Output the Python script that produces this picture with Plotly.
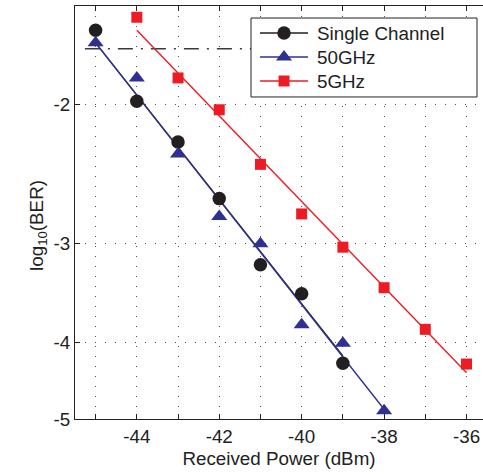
import numpy as np
import plotly.graph_objects as go

# Received optical power (dBm)
power_single = [-45, -44, -43, -42, -41, -40, -39]
power_50ghz = [-45, -44, -43, -42, -41, -40, -39, -38]
power_5ghz = [-44, -43, -42, -41, -40, -39, -38, -37, -36]

# Measured log10(BER)
ber_single = [-1.61, -1.98, -2.23, -2.63, -3.19, -3.47, -4.25]
ber_50ghz = [-1.67, -1.85, -2.31, -2.77, -3.00, -3.80, -4.01, -4.88]
ber_5ghz = [-1.55, -1.85, -2.03, -2.38, -2.75, -3.03, -3.41, -3.85, -4.26]

# Linear fits (end points) of each series
fit_single_x = [-45, -39]
fit_single_y = [-1.67, -4.16]
fit_50ghz_x = [-45, -38]
fit_50ghz_y = [-1.67, -4.86]
fit_5ghz_x = [-44, -36]
fit_5ghz_y = [-1.61, -4.37]

# FEC limit (BER = 2e-2)
fec_x = [-45.26, -37.0]
fec_y = [np.log10(2e-2)] * 2

x_ticks = [-44, -42, -40, -38, -36]
x_tick_text = ["-44", "-42", "-40", "-38", "-36"]
y_ticks = [-2, -3, -4, -5]
y_tick_text = ["-2", "-3", "-4", "-5"]

legend_names = ["Single Channel", "50GHz", "5GHz"]

BLACK = "#231f20"
BLUE = "#2e3192"
RED = "#ed1c24"
FONT = "Liberation Sans, Arial, sans-serif"
FS = 18.8


def depth(values):
    # the BER axis is drawn on a log(-log10 BER) scale
    return [-v for v in values]


fig = go.Figure()

fig.add_trace(go.Scatter(x=fec_x, y=depth(fec_y), mode="lines",
                         line=dict(color="#3a3a3a", width=1.5, dash="15px,8px,2px,8px"),
                         showlegend=False, hoverinfo="skip"))

for fx, fy, col in [(fit_single_x, fit_single_y, BLACK),
                    (fit_50ghz_x, fit_50ghz_y, BLUE),
                    (fit_5ghz_x, fit_5ghz_y, RED)]:
    fig.add_trace(go.Scatter(x=fx, y=depth(fy), mode="lines",
                             line=dict(color=col, width=1.4),
                             showlegend=False, hoverinfo="skip"))

styles = [
    (BLACK, "circle", 13.5),
    (BLUE, "triangle-up", 14),
    (RED, "square", 11),
]
for name, px, py, (col, sym, size) in zip(legend_names,
                                          [power_single, power_50ghz, power_5ghz],
                                          [ber_single, ber_50ghz, ber_5ghz], styles):
    fig.add_trace(go.Scatter(x=px, y=depth(py), mode="markers", name=name,
                             marker=dict(color=col, symbol=sym, size=size, line=dict(width=0)),
                             customdata=py,
                             hovertemplate="%{x} dBm<br>%{customdata}<extra>" + name + "</extra>",
                             showlegend=False))

# Legend box drawn on an overlay axis spanning the plot area (0..1 both ways)
box_l, box_r, box_t, box_b = 0.4314, 0.9853, 0.9709, 0.7797
row_y = [0.9346, 0.8765, 0.8184]
key_l, key_m, key_r, text_l = 0.4534, 0.5123, 0.5711, 0.5882

fig.add_trace(go.Scatter(x=[box_l, box_r, box_r, box_l, box_l],
                         y=[box_t, box_t, box_b, box_b, box_t],
                         xaxis="x2", yaxis="y2", mode="lines", fill="toself",
                         fillcolor="white", line=dict(color="#222", width=1),
                         showlegend=False, hoverinfo="skip"))
for ry, name, (col, sym, size) in zip(row_y, legend_names, styles):
    fig.add_trace(go.Scatter(x=[key_l, key_r], y=[ry, ry], xaxis="x2", yaxis="y2",
                             mode="lines", line=dict(color=col, width=1.4),
                             showlegend=False, hoverinfo="skip"))
    fig.add_trace(go.Scatter(x=[key_m], y=[ry], xaxis="x2", yaxis="y2", mode="markers",
                             marker=dict(color=col, symbol=sym, size=size, line=dict(width=0)),
                             showlegend=False, hoverinfo="skip"))
    fig.add_annotation(text=name, xref="paper", yref="paper", x=text_l, y=ry,
                       xanchor="left", yanchor="middle", showarrow=False,
                       font=dict(family=FONT, size=FS, color="#222"))

axis_font = dict(family=FONT, size=FS, color="#222")
grid_style = dict(showgrid=True, gridcolor="#555", gridwidth=1, griddash="1px,9px")
tick_style = dict(ticks="inside", ticklen=5, tickcolor="#222", tickwidth=1)

# y-axis title
fig.add_annotation(text="log<sub>10</sub>(BER)", xref="paper", yref="paper",
                   x=-0.0907, y=0.47, xanchor="center", yanchor="middle",
                   textangle=-90, showarrow=False, font=axis_font)

fig.update_layout(
    width=483, height=475,
    margin=dict(l=75, r=0, t=6, b=56),
    paper_bgcolor="white", plot_bgcolor="white",
    font=axis_font,
    xaxis=dict(
        range=[-45.5, -35.6], tickvals=x_ticks, ticktext=x_tick_text,
        minor=dict(dtick=1, tick0=-45, **tick_style, **grid_style),
        showline=True, linecolor="#222", linewidth=1, mirror="ticks",
        zeroline=False, tickfont=axis_font,
        title=dict(text="Received Power (dBm)", font=axis_font, standoff=6),
        **tick_style, **grid_style,
    ),
    yaxis=dict(
        type="log", range=[np.log10(5), np.log10(1.5)],
        tickvals=depth(y_ticks), ticktext=y_tick_text,
        showline=True, linecolor="#222", linewidth=1, mirror=False,
        zeroline=False, tickfont=axis_font,
        **tick_style, **grid_style,
    ),
    xaxis2=dict(overlaying="x", anchor="y2", range=[0, 1], visible=False, fixedrange=True),
    yaxis2=dict(overlaying="y", anchor="x2", range=[0, 1], visible=False, fixedrange=True),
    showlegend=False,
)

fig.write_html("out.html")
